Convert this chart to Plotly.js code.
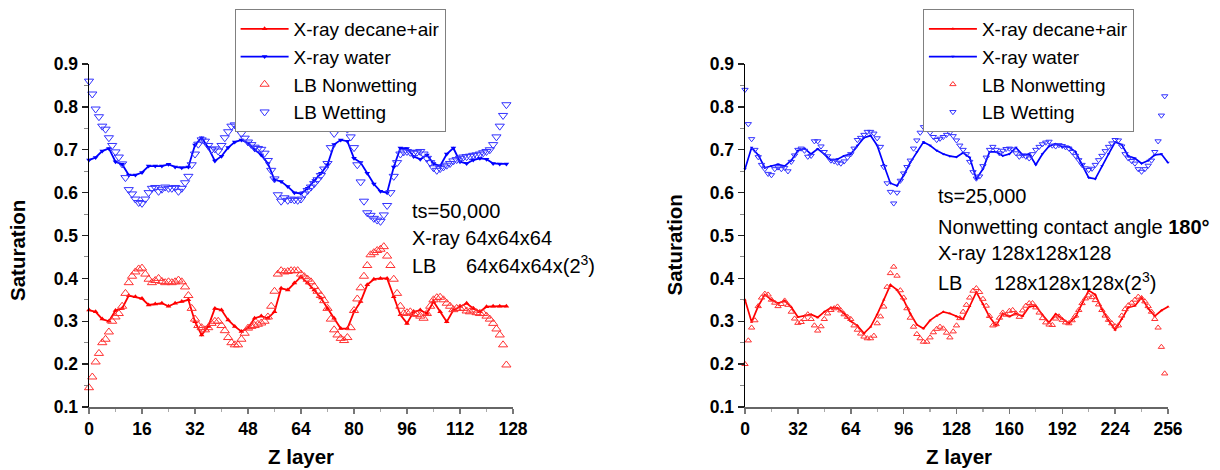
<!DOCTYPE html>
<html>
<head>
<meta charset="utf-8">
<script src="https://cdn.plot.ly/plotly-3.0.1.min.js"></script>
<style>html,body{margin:0;padding:0;background:#fff}#chart{width:1220px;height:470px}</style>
</head>
<body>
<div id="chart"></div>
<script>
// ---------------- DATA ----------------
// Left panel: ts=50,000 ; X-ray every 2 Z layers, LB every Z layer
const LEFT_XRAY_STEP = 2;
const LEFT_LB_STEP = 1;
const LEFT_XRAY_DECANE = [0.326,0.322,0.305,0.300,0.325,0.330,0.360,0.357,0.353,0.338,
  0.340,0.342,0.335,0.342,0.346,0.350,0.299,0.268,0.288,0.330,
  0.326,0.303,0.288,0.276,0.284,0.307,0.312,0.307,0.322,0.377,
  0.373,0.389,0.404,0.389,0.373,0.354,0.330,0.307,0.283,0.283,
  0.322,0.346,0.385,0.398,0.400,0.400,0.357,0.315,0.295,0.322,
  0.326,0.318,0.346,0.322,0.299,0.326,0.335,0.342,0.330,0.322,
  0.334,0.335,0.335,0.335];
const LEFT_XRAY_WATER = [0.676,0.682,0.697,0.703,0.672,0.666,0.641,0.641,0.647,0.662,
  0.662,0.662,0.666,0.660,0.658,0.660,0.711,0.728,0.705,0.674,
  0.685,0.705,0.718,0.723,0.716,0.700,0.688,0.668,0.630,0.626,
  0.614,0.600,0.598,0.610,0.628,0.645,0.665,0.712,0.723,0.720,
  0.680,0.670,0.645,0.620,0.603,0.600,0.660,0.704,0.703,0.684,
  0.678,0.688,0.668,0.662,0.690,0.704,0.672,0.668,0.676,0.680,
  0.678,0.668,0.667,0.667];
const LEFT_LB_NONWET = [0.145,0.170,0.205,0.225,0.250,0.258,0.275,0.300,0.310,0.318,
  0.335,0.365,0.390,0.405,0.415,0.422,0.424,0.410,0.398,0.390,
  0.395,0.400,0.393,0.390,0.392,0.390,0.392,0.396,0.392,0.380,
  0.360,0.330,0.305,0.290,0.285,0.280,0.285,0.295,0.300,0.300,
  0.290,0.278,0.262,0.250,0.245,0.245,0.258,0.272,0.284,0.288,
  0.290,0.293,0.296,0.300,0.310,0.335,0.370,0.410,0.418,0.415,
  0.416,0.418,0.418,0.418,0.410,0.404,0.398,0.392,0.381,0.370,
  0.360,0.348,0.330,0.305,0.280,0.268,0.260,0.255,0.262,0.285,
  0.325,0.352,0.378,0.405,0.430,0.455,0.460,0.465,0.468,0.474,
  0.452,0.430,0.398,0.365,0.335,0.318,0.320,0.322,0.318,0.316,
  0.312,0.307,0.318,0.335,0.350,0.355,0.356,0.350,0.342,0.335,
  0.327,0.330,0.330,0.330,0.324,0.322,0.326,0.320,0.318,0.318,
  0.312,0.305,0.295,0.282,0.268,0.245,0.198];
const LEFT_LB_WET = [0.860,0.830,0.795,0.777,0.755,0.748,0.728,0.710,0.695,0.683,
  0.667,0.635,0.607,0.597,0.585,0.577,0.575,0.585,0.600,0.610,
  0.612,0.603,0.608,0.613,0.610,0.610,0.612,0.603,0.610,0.623,
  0.638,0.665,0.690,0.713,0.723,0.720,0.710,0.700,0.702,0.697,
  0.710,0.728,0.742,0.755,0.758,0.750,0.738,0.727,0.718,0.712,
  0.706,0.703,0.701,0.692,0.675,0.652,0.632,0.595,0.580,0.588,
  0.582,0.585,0.583,0.582,0.585,0.597,0.605,0.613,0.621,0.630,
  0.640,0.655,0.668,0.705,0.738,0.750,0.754,0.755,0.748,0.730,
  0.705,0.665,0.625,0.580,0.553,0.547,0.540,0.536,0.533,0.548,
  0.570,0.600,0.638,0.670,0.690,0.695,0.696,0.694,0.692,0.694,
  0.696,0.690,0.680,0.670,0.658,0.652,0.656,0.660,0.664,0.668,
  0.674,0.677,0.680,0.683,0.684,0.685,0.687,0.688,0.690,0.693,
  0.696,0.700,0.712,0.730,0.755,0.780,0.805];

// Right panel: ts=25,000 ; X-ray every 4 Z layers, LB every 2 Z layers
const RIGHT_XRAY_STEP = 4;
const RIGHT_LB_STEP = 2;
const RIGHT_XRAY_DECANE = [0.350,0.298,0.335,0.362,0.350,0.342,0.348,0.333,0.310,0.313,
  0.316,0.309,0.322,0.332,0.331,0.318,0.300,0.290,0.272,0.287,
  0.316,0.350,0.385,0.373,0.350,0.318,0.292,0.283,0.302,0.313,
  0.322,0.318,0.311,0.305,0.335,0.368,0.340,0.310,0.290,0.318,
  0.311,0.318,0.312,0.334,0.336,0.315,0.297,0.317,0.306,0.295,
  0.310,0.340,0.372,0.362,0.328,0.302,0.280,0.305,0.332,0.336,
  0.355,0.330,0.312,0.325,0.334];
const RIGHT_XRAY_WATER = [0.655,0.705,0.688,0.658,0.662,0.666,0.662,0.675,0.698,0.703,
  0.690,0.702,0.690,0.676,0.678,0.686,0.690,0.710,0.728,0.733,
  0.710,0.665,0.622,0.616,0.640,0.670,0.695,0.718,0.710,0.698,
  0.690,0.685,0.683,0.693,0.682,0.632,0.655,0.695,0.695,0.686,
  0.690,0.705,0.688,0.690,0.665,0.690,0.708,0.714,0.707,0.707,
  0.695,0.665,0.635,0.632,0.662,0.690,0.718,0.712,0.685,0.680,
  0.668,0.675,0.688,0.690,0.670];
const RIGHT_LB_NONWET = [0.200,0.255,0.285,0.302,0.335,0.355,0.364,0.362,0.350,0.343,
  0.335,0.340,0.348,0.338,0.322,0.306,0.296,0.298,0.305,0.316,
  0.305,0.290,0.278,0.288,0.305,0.318,0.326,0.330,0.334,0.325,
  0.316,0.310,0.305,0.290,0.280,0.271,0.264,0.260,0.260,0.266,
  0.295,0.311,0.334,0.380,0.412,0.427,0.406,0.372,0.355,0.330,
  0.308,0.287,0.270,0.260,0.252,0.252,0.262,0.274,0.282,0.287,
  0.283,0.273,0.262,0.276,0.290,0.307,0.322,0.338,0.355,0.371,
  0.377,0.368,0.352,0.336,0.312,0.290,0.293,0.308,0.320,0.315,
  0.324,0.326,0.318,0.310,0.325,0.336,0.342,0.342,0.332,0.320,
  0.307,0.297,0.292,0.291,0.306,0.311,0.303,0.297,0.295,0.302,
  0.313,0.326,0.342,0.353,0.360,0.356,0.349,0.339,0.326,0.313,
  0.303,0.295,0.288,0.290,0.313,0.328,0.337,0.343,0.350,0.357,
  0.354,0.346,0.335,0.322,0.305,0.285,0.240,0.178];
const RIGHT_LB_WET = [0.840,0.760,0.725,0.700,0.683,0.665,0.655,0.644,0.641,0.655,
  0.659,0.655,0.658,0.650,0.672,0.687,0.700,0.703,0.698,0.684,
  0.686,0.720,0.720,0.708,0.695,0.685,0.675,0.673,0.670,0.668,
  0.673,0.682,0.690,0.703,0.723,0.728,0.735,0.742,0.742,0.738,
  0.727,0.707,0.660,0.622,0.602,0.575,0.600,0.628,0.645,0.660,
  0.675,0.703,0.722,0.740,0.753,0.750,0.740,0.730,0.723,0.726,
  0.730,0.735,0.740,0.732,0.722,0.710,0.700,0.690,0.672,0.648,
  0.633,0.638,0.662,0.682,0.700,0.707,0.700,0.692,0.698,0.702,
  0.703,0.701,0.692,0.684,0.687,0.684,0.680,0.690,0.700,0.707,
  0.713,0.717,0.719,0.710,0.708,0.711,0.709,0.706,0.703,0.695,
  0.686,0.676,0.665,0.657,0.653,0.656,0.665,0.676,0.686,0.697,
  0.707,0.715,0.723,0.722,0.708,0.690,0.680,0.674,0.668,0.655,
  0.649,0.655,0.663,0.675,0.695,0.720,0.780,0.825];

const SERIES_NAMES = ['X-ray decane+air', 'X-ray water', 'LB Nonwetting', 'LB Wetting'];
const LEFT_X_TICKS = {tick0: 0, dtick: 16, minor: 8, max: 128};
const RIGHT_X_TICKS = {tick0: 0, dtick: 32, minor: 16, max: 256};
const Y_TICKS = {tick0: 0.1, dtick: 0.1, minor: 0.05, min: 0.1, max: 0.9};
const LEFT_NOTES = ['ts=50,000', 'X-ray 64x64x64', 'LB', '64x64x64x(2<sup>3</sup>)'];
const RIGHT_NOTES = ['ts=25,000', 'Nonwetting contact angle <b>180°</b>', 'X-ray 128x128x128', 'LB', '128x128x128x(2<sup>3</sup>)'];

// ---------------- STYLE ----------------
const FONT = 'Liberation Sans, Arial, Helvetica, sans-serif';
const RED = 'rgb(255,0,0)';
const BLUE = 'rgb(0,0,255)';
const RED_LB = 'rgb(255,50,50)';
const BLUE_LB = 'rgb(50,50,255)';

function layers(arr, step) { return arr.map((_, i) => i * step); }

function panelTraces(xa, ya, leg, d, big) {
  const ms = big ? 5 : 3;
  const lbs = big ? 8 : 5.5;
  return [
    {x: layers(d.dec, d.xs), y: d.dec, name: SERIES_NAMES[0], xaxis: xa, yaxis: ya, legend: leg,
     type: 'scatter', mode: 'lines+markers', cliponaxis: false,
     line: {color: RED, width: big ? 1.8 : 1.7},
     marker: {symbol: 'triangle-up', size: ms, color: RED}},
    {x: layers(d.wat, d.xs), y: d.wat, name: SERIES_NAMES[1], xaxis: xa, yaxis: ya, legend: leg,
     type: 'scatter', mode: 'lines+markers', cliponaxis: false,
     line: {color: BLUE, width: big ? 1.8 : 1.7},
     marker: {symbol: 'triangle-down', size: ms, color: BLUE}},
    {x: layers(d.nw, d.ls), y: d.nw, name: SERIES_NAMES[2], xaxis: xa, yaxis: ya, legend: leg,
     type: 'scatter', mode: 'markers', cliponaxis: false,
     marker: {symbol: 'triangle-up-open', size: lbs, color: RED_LB, line: {color: RED_LB, width: 1}}},
    {x: layers(d.w, d.ls), y: d.w, name: SERIES_NAMES[3], xaxis: xa, yaxis: ya, legend: leg,
     type: 'scatter', mode: 'markers', cliponaxis: false,
     marker: {symbol: 'triangle-down-open', size: lbs, color: BLUE_LB, line: {color: BLUE_LB, width: 1}}}
  ];
}

const data = [].concat(
  panelTraces('x', 'y', 'legend', {dec: LEFT_XRAY_DECANE, wat: LEFT_XRAY_WATER, nw: LEFT_LB_NONWET, w: LEFT_LB_WET, xs: LEFT_XRAY_STEP, ls: LEFT_LB_STEP}, true),
  panelTraces('x2', 'y2', 'legend2', {dec: RIGHT_XRAY_DECANE, wat: RIGHT_XRAY_WATER, nw: RIGHT_LB_NONWET, w: RIGHT_LB_WET, xs: RIGHT_XRAY_STEP, ls: RIGHT_LB_STEP}, false)
);

const W = 1220, H = 470;
const YDOM = [1 - 407 / H, 1 - 64 / H];
const TICKFONT = {family: FONT, size: 17.5, color: '#000', weight: 'bold'};

function xAxis(t, dom, anchor) {
  return {domain: dom, anchor: anchor, range: [0, t.max], tickmode: 'linear', tick0: t.tick0, dtick: t.dtick,
    showline: true, linecolor: '#666', linewidth: 1.8, ticks: 'outside', ticklen: 5, tickwidth: 1.5, tickcolor: '#777',
    minor: {ticks: 'outside', dtick: t.minor, tick0: 0, ticklen: 3, tickwidth: 1.2, tickcolor: '#aaa', showgrid: false},
    showgrid: false, zeroline: false, tickfont: TICKFONT, fixedrange: true};
}
function yAxis(dom, anchor) {
  return {domain: dom, anchor: anchor, range: [Y_TICKS.min, Y_TICKS.max], tickmode: 'linear', tick0: Y_TICKS.tick0, dtick: Y_TICKS.dtick,
    tickformat: '.1f', showline: true, linecolor: '#000', linewidth: 1.5, ticks: 'outside', ticklen: 6, tickwidth: 1.3, tickcolor: '#222',
    minor: {ticks: 'outside', dtick: Y_TICKS.minor, tick0: 0.1, ticklen: 4, tickwidth: 1, tickcolor: '#888', showgrid: false},
    showgrid: false, zeroline: false, tickfont: TICKFONT, fixedrange: true};
}
function legendAt(xpx) {
  return {x: xpx / W, y: 1 - 9 / H, xanchor: 'left', yanchor: 'top', bgcolor: '#fff', bordercolor: '#808080', borderwidth: 1,
    font: {family: FONT, size: 19, color: '#000'}, itemwidth: 48, tracegroupgap: 0, traceorder: 'normal'};
}
function note(text, xpx, ybottom, size) {
  return {text: text, xref: 'paper', yref: 'paper', x: xpx / W, y: 1 - ybottom / H, xanchor: 'left', yanchor: 'bottom',
    showarrow: false, borderpad: 0, font: {family: FONT, size: size || 20, color: '#000'}};
}
function title(text, xpx, ypx, angle) {
  return {text: text, xref: 'paper', yref: 'paper', x: xpx / W, y: 1 - ypx / H, xanchor: 'center', yanchor: 'middle',
    textangle: angle || 0, showarrow: false, borderpad: 0, font: {family: FONT, size: 20.5, color: '#000', weight: 'bold'}};
}

const layout = {
  width: W, height: H, margin: {l: 0, r: 0, t: 0, b: 0},
  paper_bgcolor: '#fff', plot_bgcolor: '#fff', showlegend: true,
  xaxis: xAxis(LEFT_X_TICKS, [89 / W, 513 / W], 'y'),
  yaxis: yAxis(YDOM, 'x'),
  xaxis2: xAxis(RIGHT_X_TICKS, [745 / W, 1168 / W], 'y2'),
  yaxis2: yAxis(YDOM, 'x2'),
  legend: legendAt(234.6),
  legend2: legendAt(922.9),
  annotations: [
    title('Z layer', 301, 456.5), title('Saturation', 17, 251, -90),
    title('Z layer', 959, 456.5), title('Saturation', 673.5, 245, -90),
    note(LEFT_NOTES[0], 410.6, 223.1), note(LEFT_NOTES[1], 410.6, 249.7),
    note(LEFT_NOTES[2], 410.6, 278.4), note(LEFT_NOTES[3], 465.4, 278.4),
    note(RIGHT_NOTES[0], 936.5, 208.4), note(RIGHT_NOTES[1], 936.5, 238.9),
    note(RIGHT_NOTES[2], 936.5, 264.6), note(RIGHT_NOTES[3], 936.5, 294.7),
    note(RIGHT_NOTES[4], 993.3, 294.7)
  ]
};

Plotly.newPlot('chart', data, layout, {displayModeBar: false, staticPlot: true});
</script>
</body>
</html>
